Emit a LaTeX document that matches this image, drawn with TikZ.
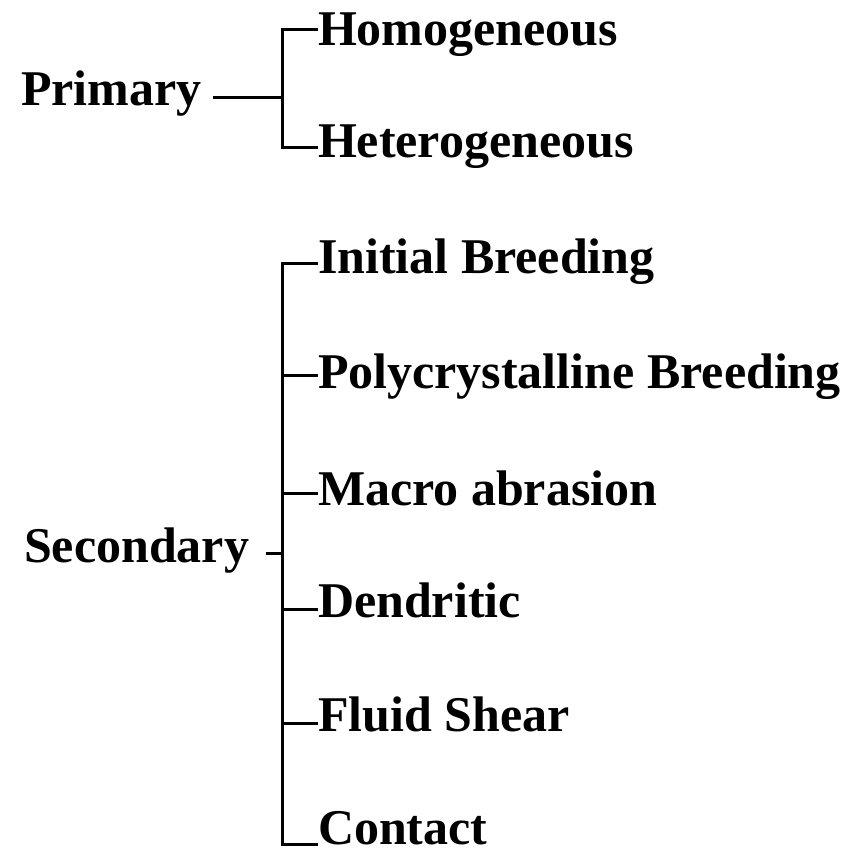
\documentclass[tikz,border=0pt]{standalone}
\usepackage{fontspec}
\setmainfont{Liberation Serif}
\begin{document}
\begin{tikzpicture}[x=1pt,y=-1pt,
  lbl/.style={anchor=base west,inner sep=0pt,outer sep=0pt,font=\fontsize{50}{60}\selectfont\bfseries},
  conn/.style={line width=3pt,black}]
\useasboundingbox (0,0) rectangle (849,851);
% primary group
\node[lbl] (prim) at (21,105) {Primary};
\node[lbl] (hom) at (318,46) {Homogeneous};
\node[lbl] (het) at (318,157) {Heterogeneous};
\coordinate (pmid) at (282.5,97);
\coordinate (homend) at ([yshift=16pt]hom.base west);
\coordinate (hetend) at ([yshift=10pt]het.base west);
\coordinate (primend) at ([xshift=12pt]prim.base east);
\draw[conn] (homend) -| (pmid) |- (hetend);
\draw[conn] (primend |- pmid) -- (pmid);
% secondary group
\node[lbl] (sec) at (24,562) {Secondary};
\node[lbl] (ini) at (318,273) {Initial Breeding};
\node[lbl] (poly) at (318,388) {Polycrystalline Breeding};
\node[lbl] (mac) at (318,505) {Macro abrasion};
\node[lbl] (den) at (318,617) {Dendritic};
\node[lbl] (flu) at (318,731) {Fluid Shear};
\node[lbl,text depth=0pt] (con) at (318,844) {Contact};
\coordinate (smid) at (282.5,553);
\coordinate (sbot) at (282.5,844);
\coordinate (iniend) at ([yshift=10pt]ini.base west);
\coordinate (polyend) at ([yshift=13pt]poly.base west);
\coordinate (macend) at ([yshift=12pt]mac.base west);
\coordinate (denend) at ([yshift=8pt]den.base west);
\coordinate (fluend) at ([yshift=8pt]flu.base west);
\coordinate (conend) at (con.base west);
\coordinate (secend) at ([xshift=17pt]sec.base east);
\draw[conn] (iniend) -| (sbot) -- (conend);
\draw[conn] (smid |- polyend) -- (polyend);
\draw[conn] (smid |- macend) -- (macend);
\draw[conn] (smid |- denend) -- (denend);
\draw[conn] (smid |- fluend) -- (fluend);
\draw[conn] (secend |- smid) -- (smid);
\end{tikzpicture}
\end{document}
